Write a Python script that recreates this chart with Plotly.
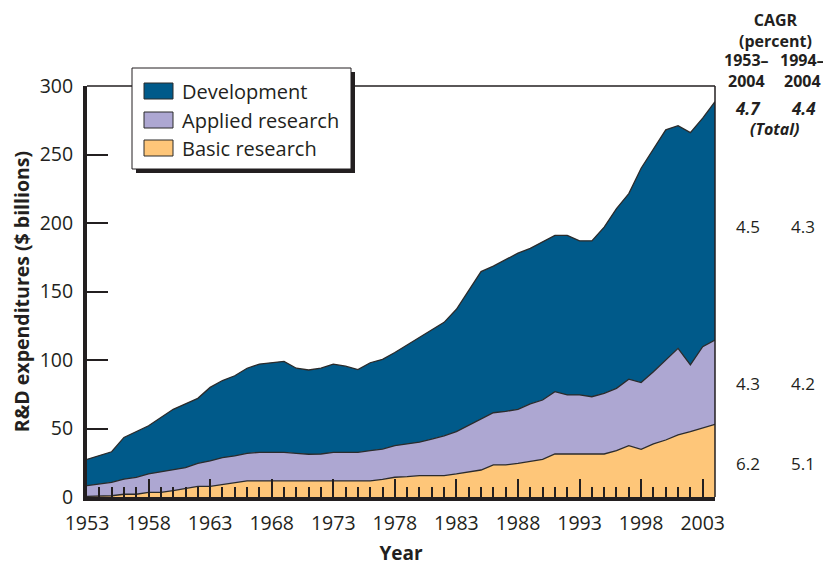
import plotly.graph_objects as go

years = list(range(1953, 2005))

# R&D expenditures by component, $ billions
basic = [0.5, 0.6, 0.9, 2.0, 2.0, 3.4, 3.4, 4.6, 6.3, 7.8,
         7.8, 9.0, 10.2, 11.7, 11.7, 11.7, 11.7, 11.7, 11.7, 11.7,
         11.7, 11.7, 11.7, 11.7, 12.9, 14.4, 14.8, 15.6, 15.6, 15.6,
         16.8, 18.2, 19.7, 23.4, 23.4, 24.6, 26.0, 27.5, 31.4, 31.4,
         31.4, 31.4, 31.4, 33.8, 37.5, 34.8, 38.7, 41.6, 45.3, 47.7,
         50.1, 53.0]
applied = [7.8, 8.9, 9.8, 11.0, 12.4, 13.4, 14.8, 15.1, 15.1, 16.8,
           18.5, 19.7, 19.8, 20.2, 20.9, 20.9, 20.9, 20.2, 19.5, 19.7,
           20.9, 20.9, 20.9, 22.1, 22.1, 23.1, 23.9, 24.4, 26.7, 29.1,
           30.9, 34.3, 37.0, 38.1, 39.1, 39.4, 42.0, 43.3, 45.5, 43.1,
           43.1, 41.8, 44.3, 45.5, 48.5, 48.7, 52.8, 58.4, 63.2, 48.7,
           59.6, 61.6]
development = [19.2, 20.5, 22.3, 30.5, 33.6, 35.2, 39.8, 44.3, 46.6, 47.4,
               53.7, 56.3, 58.5, 62.1, 64.4, 65.4, 66.4, 62.1, 61.5, 62.6,
               64.4, 62.9, 60.4, 64.2, 65.5, 68.0, 72.3, 76.0, 79.7, 82.8,
               89.3, 98.0, 107.8, 107.0, 110.5, 114.0, 113.5, 115.2, 114.1, 116.5,
               112.5, 113.8, 121.3, 131.2, 135.5, 156.5, 163.0, 168.0, 162.5, 169.6,
               166.8, 173.9]

x_ticks = list(range(1953, 2004, 5))
y_ticks = [0, 50, 100, 150, 200, 250, 300]

# CAGR table on the right
cagr_rows = ["Total", "Development", "Applied research", "Basic research"]
cagr_1953_2004 = ["4.7", "4.5", "4.3", "6.2"]
cagr_1994_2004 = ["4.4", "4.3", "4.2", "5.1"]
cagr_y = [108, 226, 383, 463]  # pixel rows, from the top of the window

INK = "#231f20"
FONT = "Open Sans"
LINE = "#2b2b2b"

series = [
    ("Basic research", basic, "#fec679"),
    ("Applied research", applied, "#ada7d2"),
    ("Development", development, "#005a8a"),
]

fig = go.Figure()
for name, vals, color in series:
    fig.add_trace(go.Scatter(
        x=years, y=vals, name=name,
        mode="lines", stackgroup="rd",
        line=dict(color=LINE, width=1.3),
        fillcolor=color,
        hoverinfo="skip",
    ))

# the page body has an 8px margin, so the figure is drawn 8px in from the corner
OFF = 8
W, H = 831 - OFF, 567 - OFF
L, R, T, B = 87 - OFF, 116, 86 - OFF, 70
pw, ph = W - L - R, H - T - B


def px(xp):
    return (xp - OFF - L) / pw


def py(yp):
    return (H - B - (yp - OFF)) / ph


fig.update_xaxes(
    range=[1953, 2004],
    tickmode="array", tickvals=x_ticks,
    ticks="inside", ticklen=18, tickwidth=2, tickcolor=INK,
    minor=dict(dtick=1, tick0=1953, ticks="inside", ticklen=10,
               tickwidth=1.5, tickcolor=INK, showgrid=False),
    showgrid=False, zeroline=False,
    showline=True, linewidth=4, linecolor=INK,
    tickfont=dict(family=FONT, size=19.5, color=INK),
    ticklabelstandoff=6,
    automargin=False,
    title=dict(text="<b>Year</b>", font=dict(family=FONT, size=19, color=INK),
               standoff=12),
)
fig.update_yaxes(
    range=[0, 300],
    tickmode="array", tickvals=y_ticks,
    ticks="inside", ticklen=21, tickwidth=2, tickcolor=INK,
    showgrid=False, zeroline=False,
    showline=True, linewidth=4, linecolor=INK,
    tickfont=dict(family=FONT, size=19.5, color=INK),
    ticklabelstandoff=6,
    automargin=False,
    title=dict(text="<b>R&D expenditures ($ billions)</b>",
               font=dict(family=FONT, size=19.5, color=INK), standoff=14),
)

# thin top and right frame
fig.add_shape(type="line", xref="paper", yref="paper", x0=0, x1=1, y0=1, y1=1,
              line=dict(color=INK, width=1.5))
fig.add_shape(type="line", xref="paper", yref="paper", x0=1, x1=1, y0=0, y1=1,
              line=dict(color=INK, width=1.5))

# legend: box with drop shadow, swatches and labels
lg_x0, lg_x1, lg_y0, lg_y1 = 132, 351, 68, 169
fig.add_shape(type="rect", xref="paper", yref="paper",
              x0=px(lg_x0 + 4), x1=px(lg_x1 + 4), y0=py(lg_y1 + 4), y1=py(lg_y0 + 4),
              fillcolor=INK, line=dict(width=0), layer="above")
fig.add_shape(type="rect", xref="paper", yref="paper",
              x0=px(lg_x0), x1=px(lg_x1), y0=py(lg_y1), y1=py(lg_y0),
              fillcolor="white", line=dict(color=INK, width=1), layer="above")
legend_rows = [91, 120, 148]
for (name, _, color), ypix in zip(reversed(series), legend_rows):
    fig.add_shape(type="rect", xref="paper", yref="paper",
                  x0=px(144), x1=px(173), y0=py(ypix + 8), y1=py(ypix - 8),
                  fillcolor=color, line=dict(color=LINE, width=1), layer="above")
    fig.add_annotation(text=name, xref="paper", yref="paper",
                       x=px(180), y=py(ypix), showarrow=False,
                       xanchor="left", yanchor="middle",
                       font=dict(family=FONT, size=20, color=INK))

fig.update_layout(
    width=W, height=H,
    margin=dict(l=L, r=R, t=T, b=B, autoexpand=False),
    paper_bgcolor="white", plot_bgcolor="white",
    showlegend=False,
)

# CAGR header: title block pinned to the top edge of the figure
fig.add_annotation(text="<b>CAGR<br>(percent)</b>", xref="paper", yref="paper",
                   x=px(775), y=py(OFF), showarrow=False, borderpad=0,
                   xanchor="center", yanchor="top", align="center",
                   font=dict(family=FONT, size=16, color=INK))
header = [
    ("<b>1953–<br>2004</b>", 746, 71),
    ("<b>1994–<br>2004</b>", 802, 71),
    ("<b><i>(Total)</i></b>", 775, 129),
]
for text, xpix, ypix in header:
    fig.add_annotation(text=text, xref="paper", yref="paper",
                       x=px(xpix), y=py(ypix), showarrow=False, borderpad=0,
                       xanchor="center", yanchor="middle", align="center",
                       font=dict(family=FONT, size=16, color=INK))

for i, row in enumerate(cagr_rows):
    for val, xpix in ((cagr_1953_2004[i], 748), (cagr_1994_2004[i], 803)):
        text = f"<b><i>{val}</i></b>" if row == "Total" else val
        fig.add_annotation(text=text, xref="paper", yref="paper",
                           x=px(xpix), y=py(cagr_y[i]), showarrow=False,
                           xanchor="center", yanchor="middle",
                           font=dict(family=FONT, size=17, color=INK))

fig.write_html("out.html")
